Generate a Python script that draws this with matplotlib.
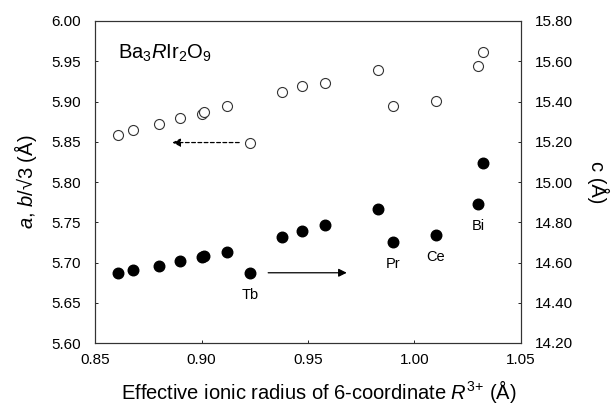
import matplotlib.pyplot as plt

plt.rcParams["font.family"] = ["Liberation Sans", "DejaVu Sans"]
plt.rcParams["mathtext.fontset"] = "custom"
plt.rcParams["mathtext.rm"] = "Liberation Sans"
plt.rcParams["mathtext.it"] = "Liberation Sans:italic"

# ionic radius of R3+ (Å)
radius = [0.861, 0.868, 0.880, 0.890, 0.900, 0.901, 0.912, 0.923,
          0.938, 0.947, 0.958, 0.983, 0.990, 1.010, 1.030, 1.032]
# a, b/sqrt(3) (Å)
a_param = [5.859, 5.864, 5.872, 5.880, 5.884, 5.887, 5.894, 5.849,
           5.912, 5.919, 5.923, 5.939, 5.894, 5.901, 5.944, 5.962]
# c (Å)
c_param = [14.549, 14.563, 14.584, 14.609, 14.626, 14.631, 14.654, 14.549,
           14.725, 14.757, 14.785, 14.866, 14.703, 14.735, 14.891, 15.096]

labels = ["Tb", "Pr", "Ce", "Bi"]
label_x = [0.923, 0.990, 1.010, 1.030]
label_c = [14.549, 14.703, 14.735, 14.891]

fig = plt.figure(figsize=(6.15, 4.07), dpi=100)
ax = fig.add_axes([95 / 615, 1 - 343 / 407, 426 / 615, 322 / 407])
ax2 = ax.twinx()

ax.plot(radius, a_param, linestyle="none", marker="o", markersize=7.2,
        markerfacecolor="white", markeredgecolor="#333333", markeredgewidth=0.8)
ax2.plot(radius, c_param, linestyle="none", marker="o", markersize=7.6,
         markerfacecolor="black", markeredgecolor="black")

for lab, lx, lc in zip(labels, label_x, label_c):
    ax2.text(lx, lc - 0.075, lab, ha="center", va="top", fontsize=10.5)

ax.annotate("", xy=(0.885, 5.849), xytext=(0.919, 5.849),
            arrowprops=dict(arrowstyle="-|>", linestyle=(0, (3, 2)),
                            color="black", lw=0.9, mutation_scale=12))
ax2.annotate("", xy=(0.9695, 14.549), xytext=(0.930, 14.549),
             arrowprops=dict(arrowstyle="-|>", color="black", lw=0.9,
                             mutation_scale=12))

ax.text(0.055, 0.9, r"Ba$_3$$\mathit{R}$Ir$_2$O$_9$", transform=ax.transAxes,
        fontsize=14.5, va="center", ha="left")

ax.set_xlim(0.85, 1.05)
ax.set_ylim(5.60, 6.00)
ax2.set_ylim(14.20, 15.80)
ax.set_xticks([0.85, 0.90, 0.95, 1.00, 1.05])
ax.set_xticklabels(["0.85", "0.90", "0.95", "1.00", "1.05"])
ax.set_yticks([5.60, 5.65, 5.70, 5.75, 5.80, 5.85, 5.90, 5.95, 6.00])
ax.set_yticklabels([f"{v:.2f}" for v in ax.get_yticks()])
ax2.set_yticks([14.2, 14.4, 14.6, 14.8, 15.0, 15.2, 15.4, 15.6, 15.8])
ax2.set_yticklabels([f"{v:.2f}" for v in ax2.get_yticks()])

for a_ in (ax, ax2):
    a_.tick_params(direction="in", length=2, width=0.6, labelsize=11, pad=10)
    for sp in a_.spines.values():
        sp.set_linewidth(0.8)
        sp.set_color("#333333")
ax.tick_params(axis="x", pad=7)

ax.set_xlabel(r"Effective ionic radius of 6-coordinate $\mathit{R}^{3{+}}$ (Å)",
              fontsize=14.5)
ax.xaxis.set_label_coords(0.526, -0.11)
ax.set_ylabel(r"$\mathit{a}$, $\mathit{b}$/√3 (Å)", fontsize=14.5, labelpad=9)
ax2.set_ylabel("c (Å)", fontsize=14.5, rotation=-90, labelpad=26)

fig.savefig("out.png", dpi=100)
